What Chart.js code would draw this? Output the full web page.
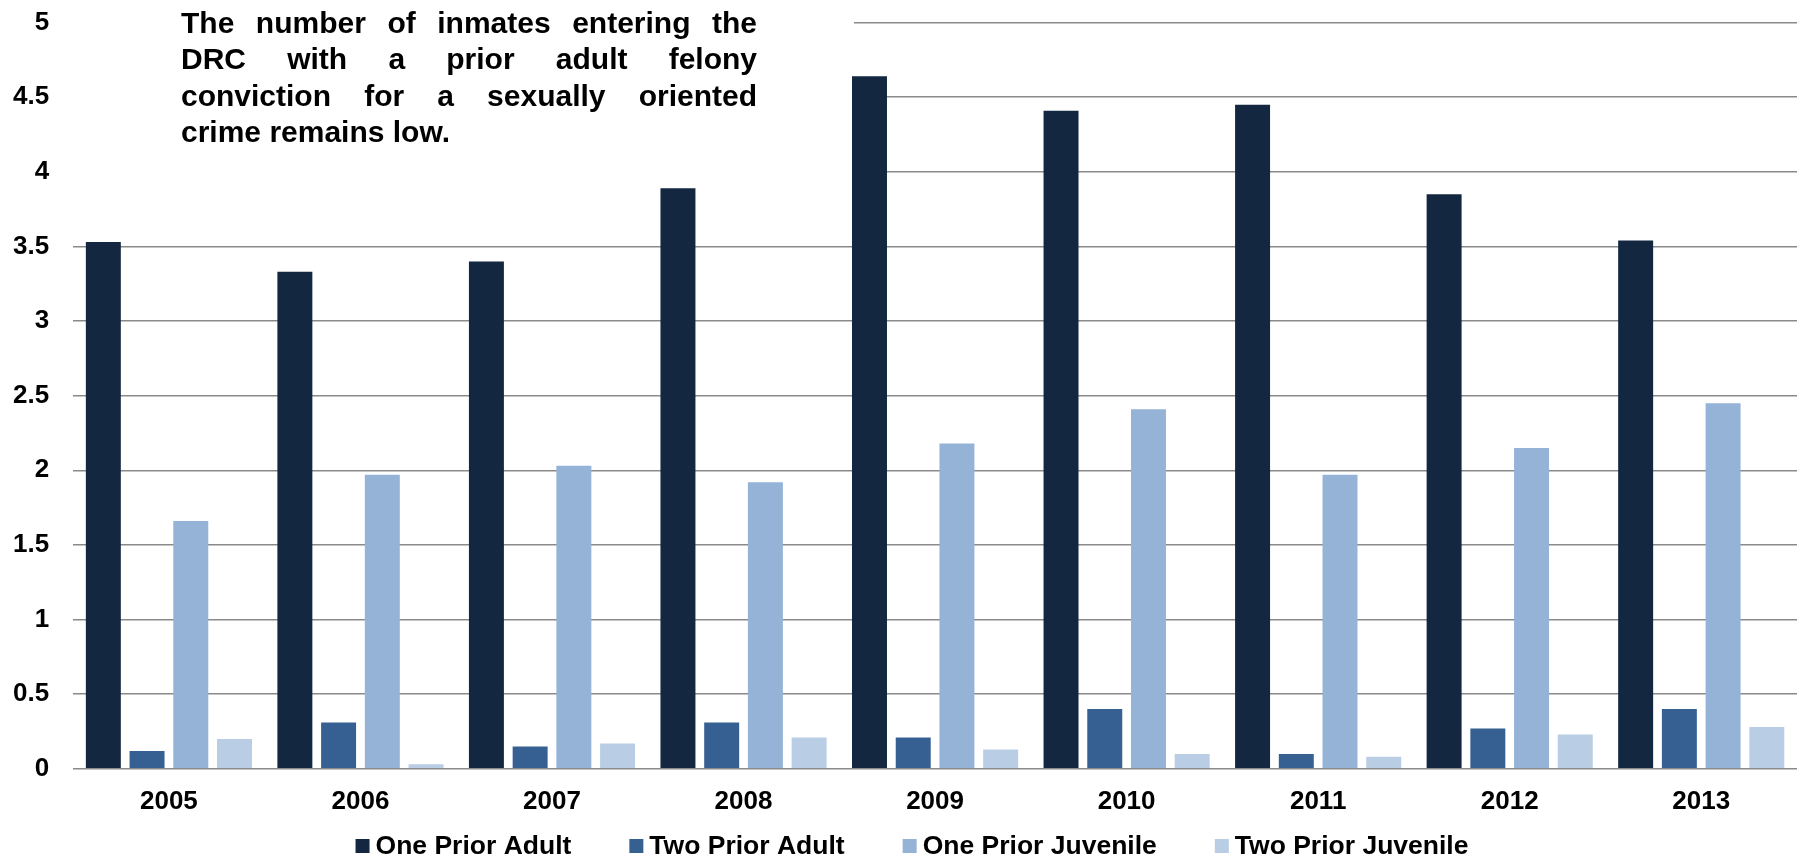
<!DOCTYPE html>
<html lang="en">
<head>
   <meta charset="UTF-8">
   <title>Prior sex offense convictions</title>
   <style>
      body { margin: 0; background: #fff; }
      #wrap { width: 1806px; height: 860px; }
   </style>
</head>
<body>
   <div id="wrap"><canvas id="myChart"></canvas></div>

   <script src="https://cdn.jsdelivr.net/npm/chart.js"></script>
   <script>
      const years = ['2005', '2006', '2007', '2008', '2009', '2010', '2011', '2012', '2013'];
      const oneAdult = [3.53, 3.33, 3.40, 3.89, 4.64, 4.41, 4.45, 3.85, 3.54];
      const twoAdult = [0.12, 0.31, 0.15, 0.31, 0.21, 0.40, 0.10, 0.27, 0.40];
      const oneJuvenile = [1.66, 1.97, 2.03, 1.92, 2.18, 2.41, 1.97, 2.15, 2.45];
      const twoJuvenile = [0.20, 0.03, 0.17, 0.21, 0.13, 0.10, 0.08, 0.23, 0.28];
      const titleLines = [
         'The number of inmates entering the',
         'DRC with a prior adult felony',
         'conviction for a sexually oriented',
         'crime remains low.'
      ];

      const FONT = '"Liberation Sans", Arial, sans-serif';

      // white text box over the top-left of the plot, with justified note
      const noteBox = {
         id: 'noteBox',
         beforeDatasetsDraw(chart) {
            const ctx = chart.ctx;
            ctx.save();
            ctx.fillStyle = '#fff';
            ctx.fillRect(chart.chartArea.left - 4, 0, 854 - chart.chartArea.left + 4, 182);
            ctx.fillStyle = '#000';
            ctx.font = 'bold 30px ' + FONT;
            ctx.textBaseline = 'alphabetic';
            const left = 181, width = 576;
            titleLines.forEach((line, i) => {
               const y = 33 + i * 36.3;
               const words = line.split(' ');
               if (i === titleLines.length - 1) {
                  ctx.fillText(line, left, y);
                  return;
               }
               const wsum = words.reduce((s, w) => s + ctx.measureText(w).width, 0);
               const gap = (width - wsum) / (words.length - 1);
               let x = left;
               words.forEach(w => {
                  ctx.fillText(w, x, y);
                  x += ctx.measureText(w).width + gap;
               });
            });
            ctx.restore();
         }
      };

      // legend row under the axis, spaced like the original (small box-text gap, wide item gap)
      const bottomLegend = {
         id: 'bottomLegend',
         afterDraw(chart) {
            const ctx = chart.ctx;
            const sets = chart.data.datasets;
            const box = 14, boxGap = 6, itemGap = 58, cy = 846;
            ctx.save();
            ctx.font = 'bold 26.5px ' + FONT;
            ctx.textBaseline = 'middle';
            const widths = sets.map(d => ctx.measureText(d.label).width);
            const total = widths.reduce((s, w) => s + box + boxGap + w, 0) + itemGap * (sets.length - 1);
            let x = 912 - total / 2;
            sets.forEach((d, i) => {
               ctx.fillStyle = d.backgroundColor;
               ctx.fillRect(x, cy - box / 2, box, box);
               ctx.fillStyle = '#000';
               ctx.fillText(d.label, x + box + boxGap, cy + 1);
               x += box + boxGap + widths[i] + itemGap;
            });
            ctx.restore();
         }
      };

      new Chart(document.getElementById('myChart'), {
         type: 'bar',
         data: {
            labels: years,
            datasets: [
               { label: 'One Prior Adult', data: oneAdult, backgroundColor: '#132740' },
               { label: 'Two Prior Adult', data: twoAdult, backgroundColor: '#376092' },
               { label: 'One Prior Juvenile', data: oneJuvenile, backgroundColor: '#95b3d7' },
               { label: 'Two Prior Juvenile', data: twoJuvenile, backgroundColor: '#b9cde5' }
            ]
         },
         options: {
            responsive: true,
            maintainAspectRatio: false,
            animation: false,
            datasets: {
               bar: { categoryPercentage: 0.913, barPercentage: 0.80 }
            },
            layout: { padding: { left: 6, right: 9, top: 8, bottom: 26 } },
            plugins: {
               legend: { display: false },
               tooltip: { enabled: false }
            },
            scales: {
               x: {
                  grid: { display: false, drawTicks: false },
                  border: { display: false },
                  ticks: {
                     color: '#000',
                     padding: 17,
                     font: { family: FONT, size: 26, weight: 'bold' }
                  }
               },
               y: {
                  min: 0,
                  max: 5,
                  border: { display: false },
                  grid: { color: '#8a8a8a', lineWidth: 1.6, tickLength: 17, tickColor: 'rgba(0,0,0,0)' },
                  ticks: {
                     stepSize: 0.5,
                     color: '#000',
                     padding: 7,
                     font: { family: FONT, size: 26, weight: 'bold' },
                     callback: (v) => String(+v.toFixed(1))
                  }
               }
            }
         },
         plugins: [noteBox, bottomLegend]
      });
   </script>
</body>
</html>
